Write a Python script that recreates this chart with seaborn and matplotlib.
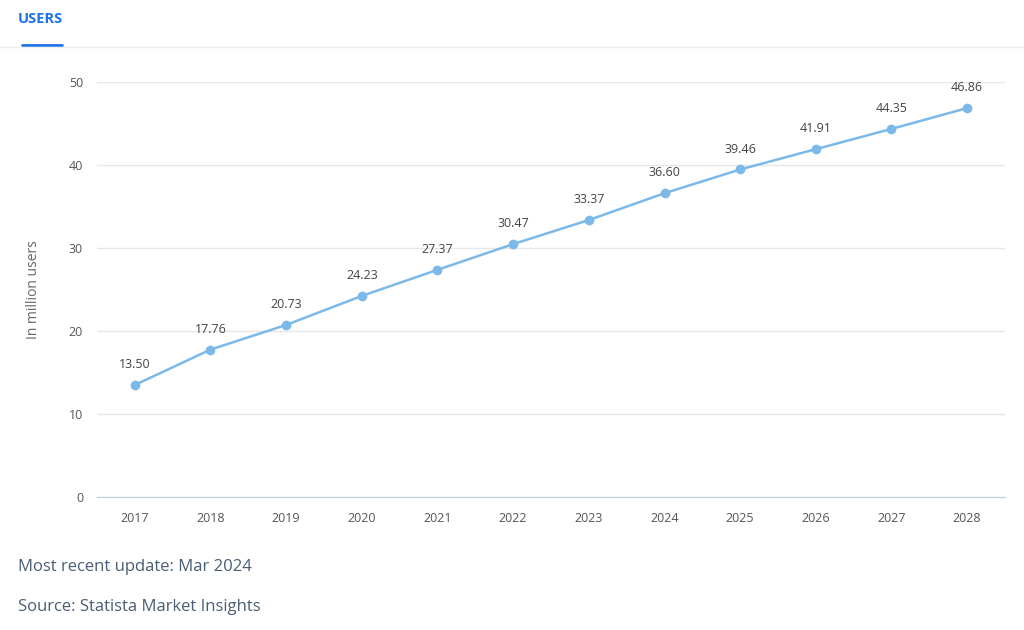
import matplotlib
matplotlib.use("Agg")
import matplotlib.pyplot as plt
import seaborn as sns
import pandas as pd
from matplotlib.lines import Line2D

years = ["2017","2018","2019","2020","2021","2022","2023","2024","2025","2026","2027","2028"]
users = [13.50,17.76,20.73,24.23,27.37,30.47,33.37,36.60,39.46,41.91,44.35,46.86]
yticks = [0,10,20,30,40,50]

sns.set_style("white")
plt.rcParams['font.family'] = ['Open Sans', 'DejaVu Sans']

fig = plt.figure(figsize=(10.24, 6.30), dpi=100)
ax = fig.add_axes([97/1024, 1-497/630, 908/1024, 415/630])
df = pd.DataFrame({"year": years, "users": users})
x = list(range(len(years)))
sns.lineplot(x=x, y=users, ax=ax, color="#7cb9e8", linewidth=1.8, marker="o",
             markersize=7, markeredgewidth=0)
for xi, v in zip(x, users):
    ax.annotate(f"{v:.2f}", (xi, v), xytext=(0, 10), textcoords="offset points",
                ha="center", va="bottom", fontsize=9, color="#444444", clip_on=False)
ax.set_xlim(-0.5, len(years) - 0.5)
ax.set_ylim(0, 50)
ax.set_xticks(x)
ax.set_xticklabels(years)
ax.set_yticks(yticks)
ax.tick_params(axis="both", labelsize=9, colors="#555555", length=0, pad=10)
ax.tick_params(axis="x", length=5, color="#c8d6e5", pad=6)
ax.grid(axis="y", color="#e6e6e6", linewidth=1)
for s in ["top", "right", "left"]:
    ax.spines[s].set_visible(False)
ax.spines["bottom"].set_color("#b8cde0")
ax.set_ylabel("In million users", fontsize=10, color="#666666", labelpad=20)

fig.text(18/1024, 1-19/630, "USERS", fontsize=10.5, fontweight="bold", color="#1a73e8", va="center")
fig.add_artist(Line2D([22/1024, 62/1024], [1-45/630]*2, color="#1a73e8", linewidth=2))
fig.add_artist(Line2D([0, 1], [1-47/630]*2, color="#eeeeee", linewidth=1))
fig.text(18/1024, 1-567/630, "Most recent update: Mar 2024", fontsize=12, color="#4a5d75", va="center")
fig.text(18/1024, 1-607/630, "Source: Statista Market Insights", fontsize=12, color="#4a5d75", va="center")

fig.savefig("out.png", dpi=100)
